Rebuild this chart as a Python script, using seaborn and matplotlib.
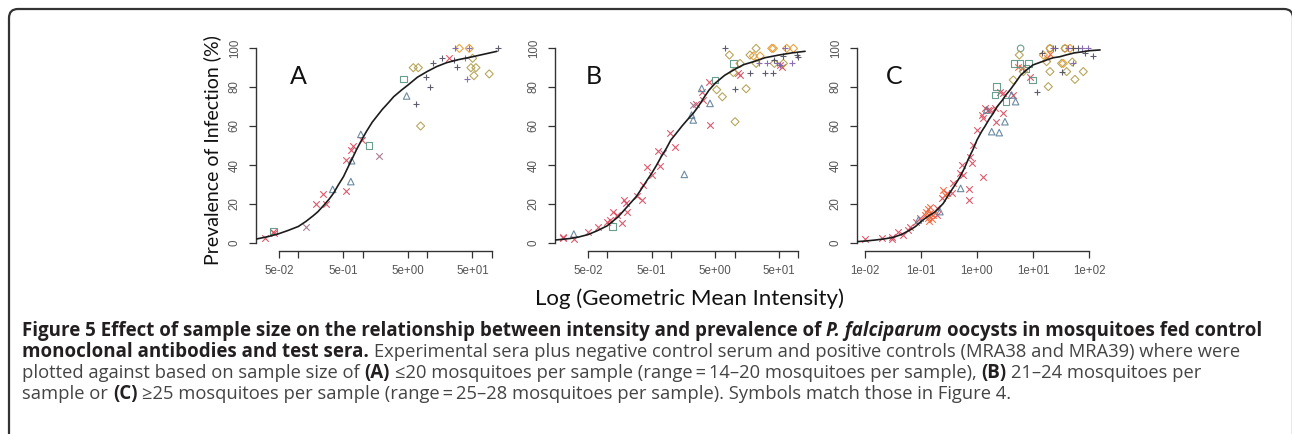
import matplotlib
matplotlib.use("Agg")
import matplotlib.pyplot as plt
import pandas as pd
import seaborn as sns
from matplotlib.patches import FancyBboxPatch
from matplotlib.ticker import FixedFormatter, FixedLocator, NullFormatter

W, H = 1292, 434

# --- data: (geometric mean intensity, prevalence %) ---
A_CROSS = [(0.030, 2.4), (0.041, 5.8), (0.042, 5.0), (0.19, 19.8), (0.24, 25.0), (0.265, 19.8),
           (0.54, 42.6), (0.54, 26.8), (0.66, 47.7), (0.71, 49.9), (0.96, 52.8), (21.9, 94.7)]
A_CROSS_PALE = [(0.13, 8.0), (1.80, 44.6)]
A_CROSS_ORANGE = []
A_TRIANGLE = [(0.34, 27.5), (0.65, 31.5), (0.67, 42.2), (0.93, 55.7), (4.77, 75.4)]
A_SQUARE = [(0.041, 6.2), (1.24, 49.9), (4.24, 84.1)]
A_CIRCLE = []
A_DIAMOND = [(6.05, 89.9), (7.23, 89.9), (7.86, 60.0), (47.4, 89.9), (50.3, 94.7), (56.6, 89.9),
             (52.7, 85.8), (91.2, 86.7)]
A_DIAMOND_ORANGE = [(31.3, 99.8), (44.7, 99.8)]
A_PLUS = [(6.58, 71.3), (9.40, 85.0), (10.96, 79.8), (12.4, 92.1), (16.6, 94.7), (26.0, 93.8),
          (29.0, 90.1), (126, 99.8)]
A_PLUS_PURPLE = [(26.8, 99.8), (38.3, 94.7), (41.6, 84.3), (44.7, 99.8)]

B_CROSS = [(0.0205, 2.4), (0.0205, 3.2), (0.030, 1.9), (0.051, 5.8), (0.071, 8.4), (0.101, 10.9),
           (0.111, 11.8), (0.122, 15.7), (0.141, 14.4), (0.169, 10.4), (0.186, 22.0), (0.198, 20.3),
           (0.202, 16.1), (0.29, 24.1), (0.348, 22.0), (0.37, 29.7), (0.417, 39.1), (0.50, 34.9),
           (0.62, 47.4), (0.68, 39.5), (0.97, 56.2), (1.16, 49.1), (2.48, 71.3), (3.05, 77.6),
           (3.16, 73.3), (4.03, 82.7), (4.12, 60.5), (11.5, 87.0), (12.2, 86.2), (55.1, 90.4),
           (51.8, 91.3)]
B_CROSS_PALE = [(0.76, 46.0), (2.25, 70.8)]
B_CROSS_ORANGE = []
B_TRIANGLE = [(0.030, 4.6), (1.63, 35.2), (2.12, 65.6), (2.25, 63.1), (4.12, 71.6), (3.05, 79.3)]
B_SQUARE = [(0.122, 8.4), (4.94, 83.6), (9.59, 92.1)]
B_CIRCLE = []
B_DIAMOND = [(5.25, 78.6), (6.44, 75.0), (8.30, 96.4), (10.2, 62.2), (9.59, 87.4), (15.2, 79.1),
             (17.5, 96.4), (21.8, 99.8), (21.8, 92.1), (42.2, 92.1), (58.5, 92.1), (12.2, 92.1)]
B_DIAMOND_ORANGE = [(19.8, 95.9), (25.2, 95.9), (38.4, 99.8), (40.7, 99.8), (84.0, 99.8), (65.9, 99.8)]
B_PLUS = [(7.10, 99.8), (10.2, 79.1), (17.5, 87.0), (30.1, 87.0), (40.7, 87.4), (42.2, 93.8),
          (58.5, 95.9), (100.6, 95.6), (94.6, 96.4)]
B_PLUS_PURPLE = [(24.5, 92.5), (32.0, 92.1), (45.9, 92.1), (51.8, 91.3), (62.1, 99.8), (79.1, 92.1)]

C_CROSS = [(0.010, 1.9), (0.020, 2.4), (0.030, 1.9), (0.030, 3.2), (0.039, 5.8), (0.048, 4.1),
           (0.059, 6.7), (0.064, 8.0), (0.082, 10.9), (0.096, 12.6), (0.19, 17.8), (0.19, 14.4),
           (0.234, 22.9), (0.287, 25.5), (0.353, 25.5), (0.378, 30.6), (0.497, 35.7), (0.532, 40.0),
           (0.57, 34.9), (0.73, 27.8), (0.73, 22.0), (0.75, 44.3), (0.80, 40.9), (0.86, 50.3),
           (0.99, 58.0), (1.21, 65.6), (1.30, 34.0), (1.30, 63.9), (1.39, 69.1), (1.59, 68.2),
           (1.71, 68.2), (2.10, 69.1), (2.18, 62.2), (2.57, 77.6), (2.87, 76.8), (2.95, 66.5),
           (4.45, 75.9), (6.28, 89.6), (8.84, 85.3)]
C_CROSS_PALE = []
C_CROSS_ORANGE = [(0.118, 14.4), (0.125, 16.0), (0.135, 13.0), (0.135, 17.5), (0.145, 15.5),
                  (0.145, 18.6), (0.155, 12.5), (0.166, 14.4), (0.14, 11.5), (0.25, 27.2),
                  (0.27, 24.5), (5.5, 90.0), (18.0, 95.0), (20.0, 97.0)]
C_TRIANGLE = [(0.090, 11.8), (0.218, 16.1), (0.511, 28.0), (1.49, 68.2), (1.83, 57.1), (2.50, 56.6),
              (3.16, 62.2), (4.16, 75.9), (4.90, 72.5)]
C_SQUARE = [(2.24, 80.2), (2.10, 75.9), (3.29, 72.5), (4.58, 92.1), (5.86, 92.1), (7.50, 89.6),
            (8.26, 92.1), (9.86, 83.6)]
C_CIRCLE = [(6.02, 99.8), (20.1, 99.8), (37.3, 99.8)]
C_DIAMOND = [(5.70, 96.4), (4.45, 83.6), (6.72, 87.9), (17.5, 93.0), (18.8, 80.2), (20.1, 87.9),
             (32.5, 92.1), (39.9, 87.9), (56.2, 83.9), (79.3, 87.9), (50.4, 92.8)]
C_DIAMOND_ORANGE = [(15.3, 96.4), (20.1, 99.8), (34.8, 92.1), (37.3, 99.8), (45.8, 99.8)]
C_PLUS = [(14.3, 97.3), (24.7, 99.8), (32.5, 87.9), (52.5, 99.8), (64.5, 99.8), (84.9, 97.3),
          (119, 96.0), (11.6, 77.6)]
C_PLUS_PURPLE = [(23.1, 99.8), (42.8, 99.8), (52.5, 92.1), (74.0, 99.8), (97.3, 99.8)]

# fitted curves
A_CURVE_X = [0.022, 0.035, 0.05, 0.07, 0.1, 0.13, 0.17, 0.2, 0.25, 0.3, 0.35, 0.42, 0.5, 0.6,
             0.7, 0.8, 1.0, 1.15, 1.4, 1.65, 2.0, 2.5, 3.0, 4.0, 5.0, 7.0, 10, 14, 20, 30, 50,
             80, 120]
A_CURVE_Y = [2, 3.4, 4.8, 6.5, 8.5, 11, 14, 16, 19.5, 22.5, 25.5, 30, 34, 39.5, 44, 48, 54, 57.5,
             62, 65, 68.5, 72, 75, 78.5, 81, 85, 88, 90.5, 92.5, 94, 95.5, 97, 98.3]
B_CURVE_X = [0.015, 0.026, 0.035, 0.05, 0.07, 0.1, 0.15, 0.23, 0.29, 0.35, 0.42, 0.5, 0.6, 0.7,
             0.85, 1.0, 1.2, 1.5, 1.8, 2.25, 2.7, 3.3, 4.0, 5, 7, 10, 14, 20, 30, 50, 80, 128]
B_CURVE_Y = [1.5, 2.3, 3.0, 4.3, 6.3, 8.8, 13.5, 20.3, 24, 28, 32, 35.7, 40, 44, 48.5, 52.8, 56,
             60, 63, 66.5, 70, 74.5, 78.5, 82, 86, 89, 91.5, 93, 95, 96.4, 97.5, 98.3]
C_CURVE_X = [0.0071, 0.01, 0.015, 0.022, 0.032, 0.045, 0.064, 0.08, 0.1, 0.13, 0.18, 0.21, 0.25,
             0.3, 0.35, 0.42, 0.5, 0.6, 0.7, 0.85, 1.0, 1.2, 1.4, 1.65, 1.95, 2.3, 2.8, 3.3, 3.9,
             4.8, 6, 7.5, 10, 13, 18, 23, 30, 40, 55, 75, 100, 158]
C_CURVE_Y = [0.7, 1.0, 1.5, 2.1, 2.9, 4.4, 6.7, 8.5, 11, 13.5, 16, 18, 20.3, 24, 27, 30.5, 34,
             38.5, 43, 48, 52.8, 57, 60, 63.5, 66.5, 70, 73, 76, 78.5, 82, 86, 88.5, 91.3, 92.5,
             94, 95, 95.5, 96.5, 97.5, 98, 98.6, 99]

AB_TICKS = [0.05, 0.5, 5, 50]
AB_TICK_LABELS = ["5e-02", "5e-01", "5e+00", "5e+01"]
AB_MINOR = [0.1, 1, 10, 100]
C_TICKS = [0.01, 0.1, 1, 10, 100]
C_TICK_LABELS = ["1e-02", "1e-01", "1e+00", "1e+01", "1e+02"]
Y_TICKS = [0, 20, 40, 60, 80, 100]

# marker, colour, open (hollow) marker
GROUP_STYLE = {
    "cross": ("x", "#d8485c", False),
    "cross_pale": ("x", "#a27088", False),
    "cross_orange": ("x", "#ee6236", False),
    "triangle": ("^", "#5c7f98", True),
    "square": ("s", "#5a9482", True),
    "circle": ("o", "#5a9482", True),
    "diamond": ("D", "#b09d4c", True),
    "diamond_orange": ("D", "#e59a2e", True),
    "plus": ("+", "#4a4a5c", False),
    "plus_purple": ("+", "#7c5eab", False),
}


def build_frame(groups):
    rows = []
    for name, pts in groups.items():
        for x, y in pts:
            rows.append({"intensity": x, "prevalence": y, "group": name})
    return pd.DataFrame(rows)


PANELS = [
    dict(letter="A", left=256, right=505, xlim=(0.022, 160), ticks=AB_TICKS, labels=AB_TICK_LABELS,
         minor=AB_MINOR, bounds=(0.05, 100), curve=(A_CURVE_X, A_CURVE_Y), letter_xy=(298, 77),
         df=build_frame({"cross": A_CROSS, "cross_pale": A_CROSS_PALE, "cross_orange": A_CROSS_ORANGE,
                         "triangle": A_TRIANGLE, "square": A_SQUARE, "circle": A_CIRCLE,
                         "diamond": A_DIAMOND, "diamond_orange": A_DIAMOND_ORANGE,
                         "plus": A_PLUS, "plus_purple": A_PLUS_PURPLE})),
    dict(letter="B", left=555, right=810, xlim=(0.0152, 153), ticks=AB_TICKS, labels=AB_TICK_LABELS,
         minor=AB_MINOR, bounds=(0.05, 100), curve=(B_CURVE_X, B_CURVE_Y), letter_xy=(594, 77),
         df=build_frame({"cross": B_CROSS, "cross_pale": B_CROSS_PALE, "cross_orange": B_CROSS_ORANGE,
                         "triangle": B_TRIANGLE, "square": B_SQUARE, "circle": B_CIRCLE,
                         "diamond": B_DIAMOND, "diamond_orange": B_DIAMOND_ORANGE,
                         "plus": B_PLUS, "plus_purple": B_PLUS_PURPLE})),
    dict(letter="C", left=857, right=1102, xlim=(0.0072, 171), ticks=C_TICKS, labels=C_TICK_LABELS,
         minor=[], bounds=(0.01, 100), curve=(C_CURVE_X, C_CURVE_Y), letter_xy=(894, 77),
         df=build_frame({"cross": C_CROSS, "cross_pale": C_CROSS_PALE, "cross_orange": C_CROSS_ORANGE,
                         "triangle": C_TRIANGLE, "square": C_SQUARE, "circle": C_CIRCLE,
                         "diamond": C_DIAMOND, "diamond_orange": C_DIAMOND_ORANGE,
                         "plus": C_PLUS, "plus_purple": C_PLUS_PURPLE})),
]

sns.set_theme(style="ticks")
plt.rcParams["font.family"] = ["Liberation Sans", "DejaVu Sans"]
LABEL_FONT = ["Lato", "DejaVu Sans"]
CAPTION_FONT = ["Open Sans", "DejaVu Sans"]

fig = plt.figure(figsize=(W / 100, H / 100), dpi=100, facecolor="white")

AX_TOP, AX_BOTTOM = 40, 251
for p in PANELS:
    ax = fig.add_axes([p["left"] / W, (H - AX_BOTTOM) / H, (p["right"] - p["left"]) / W,
                       (AX_BOTTOM - AX_TOP) / H])
    ax.set_xscale("log")
    ax.patch.set_alpha(0)
    df = p["df"]
    for name, (marker, color, hollow) in GROUP_STYLE.items():
        sub = df[df["group"] == name]
        if sub.empty:
            continue
        kws = dict(facecolor="none", edgecolor=color) if hollow else {}
        sns.scatterplot(data=sub, x="intensity", y="prevalence", marker=marker, color=color,
                        s=22 if marker != "D" else 17, linewidth=0.8, alpha=0.9, legend=False,
                        ax=ax, zorder=3, **kws)
    cx, cy = p["curve"]
    sns.lineplot(x=cx, y=cy, color="#1c1c1c", linewidth=1.2, ax=ax, zorder=4)

    ax.set_xlim(*p["xlim"])
    ax.set_ylim(-4.1, 104.1)
    ax.xaxis.set_major_locator(FixedLocator(p["ticks"]))
    ax.xaxis.set_major_formatter(FixedFormatter(p["labels"]))
    ax.xaxis.set_minor_locator(FixedLocator(p["minor"]))
    ax.xaxis.set_minor_formatter(NullFormatter())
    ax.set_yticks(Y_TICKS)
    ax.set_xlabel("")
    ax.set_ylabel("")
    sns.despine(ax=ax)
    for side in ("left", "bottom"):
        ax.spines[side].set_linewidth(1.0)
        ax.spines[side].set_color("#333333")
    ax.spines["left"].set_bounds(0, 100)
    ax.spines["bottom"].set_bounds(*p["bounds"])
    ax.tick_params(which="both", direction="out", length=5, width=0.9, color="#333333",
                   labelsize=8.3, labelcolor="#555555")
    ax.tick_params(axis="x", which="both", pad=5)
    ax.tick_params(axis="y", pad=6, labelrotation=90)
    for lbl in ax.get_yticklabels():
        lbl.set_va("center")

    lx, ly = p["letter_xy"]
    fig.text(lx / W, 1 - ly / H, p["letter"], ha="center", va="center", fontsize=18,
             family=LABEL_FONT, color="#111111")

fig.text(212 / W, 1 - 150 / H, "Prevalence of Infection (%)", rotation=90, ha="center",
         va="center", fontsize=14, family=LABEL_FONT, color="#111111")
fig.text(690 / W, 1 - 305 / H, "Log (Geometric Mean Intensity)", ha="center", va="baseline",
         fontsize=16, family=LABEL_FONT, color="#111111")

# frame around the figure (rounded top corners, bottom runs off the page)
frame = FancyBboxPatch((9 / 100, -0.5), (1293 - 9) / 100, (H - 9) / 100 + 0.5,
                       boxstyle="round,pad=0,rounding_size=0.09", transform=fig.dpi_scale_trans,
                       facecolor="none", edgecolor="#333333", linewidth=1.6)
fig.add_artist(frame)

# caption, drawn run by run so bold / italic pieces can sit inline
CAPTION_SIZE = {"bold": 13.5, "normal": 13.2}
BOLD_COLOR, TEXT_COLOR = "#231f20", "#444444"
CAPTION_LINES = [
    [("Figure 5 Effect of sample size on the relationship between intensity and prevalence of", "bold", "normal"),
     ("P. falciparum", "bold", "italic"),
     ("oocysts in mosquitoes fed control", "bold", "normal")],
    [("monoclonal antibodies and test sera.", "bold", "normal"),
     ("Experimental sera plus negative control serum and positive controls (MRA38 and MRA39) where were", "normal", "normal")],
    [("plotted against based on sample size of", "normal", "normal"),
     ("(A)", "bold", "normal"),
     ("≤20 mosquitoes per sample (range\u2009=\u200914–20 mosquitoes per sample),", "normal", "normal"),
     ("(B)", "bold", "normal"),
     ("21–24 mosquitoes per", "normal", "normal")],
    [("sample or", "normal", "normal"),
     ("(C)", "bold", "normal"),
     ("≥25 mosquitoes per sample (range\u2009=\u200925–28 mosquitoes per sample). Symbols match those in Figure 4.", "normal", "normal")],
]
CAPTION_BASELINES = [336, 357, 378, 399]

renderer = fig.canvas.get_renderer()


def text_width(s, weight, style):
    t = fig.text(0, 0, s, fontsize=CAPTION_SIZE[weight], fontweight=weight, fontstyle=style,
                 family=CAPTION_FONT)
    w = t.get_window_extent(renderer).width
    t.remove()
    return w


for runs, base in zip(CAPTION_LINES, CAPTION_BASELINES):
    x = 22
    for i, (s, weight, style) in enumerate(runs):
        if i > 0:
            x += text_width("n n", weight, style) - text_width("nn", weight, style)
        t = fig.text(x / W, 1 - base / H, s, ha="left", va="baseline",
                     fontsize=CAPTION_SIZE[weight], fontweight=weight, fontstyle=style,
                     family=CAPTION_FONT, color=BOLD_COLOR if weight == "bold" else TEXT_COLOR)
        x += t.get_window_extent(renderer).width

fig.savefig("out.png", dpi=100, facecolor="white")
